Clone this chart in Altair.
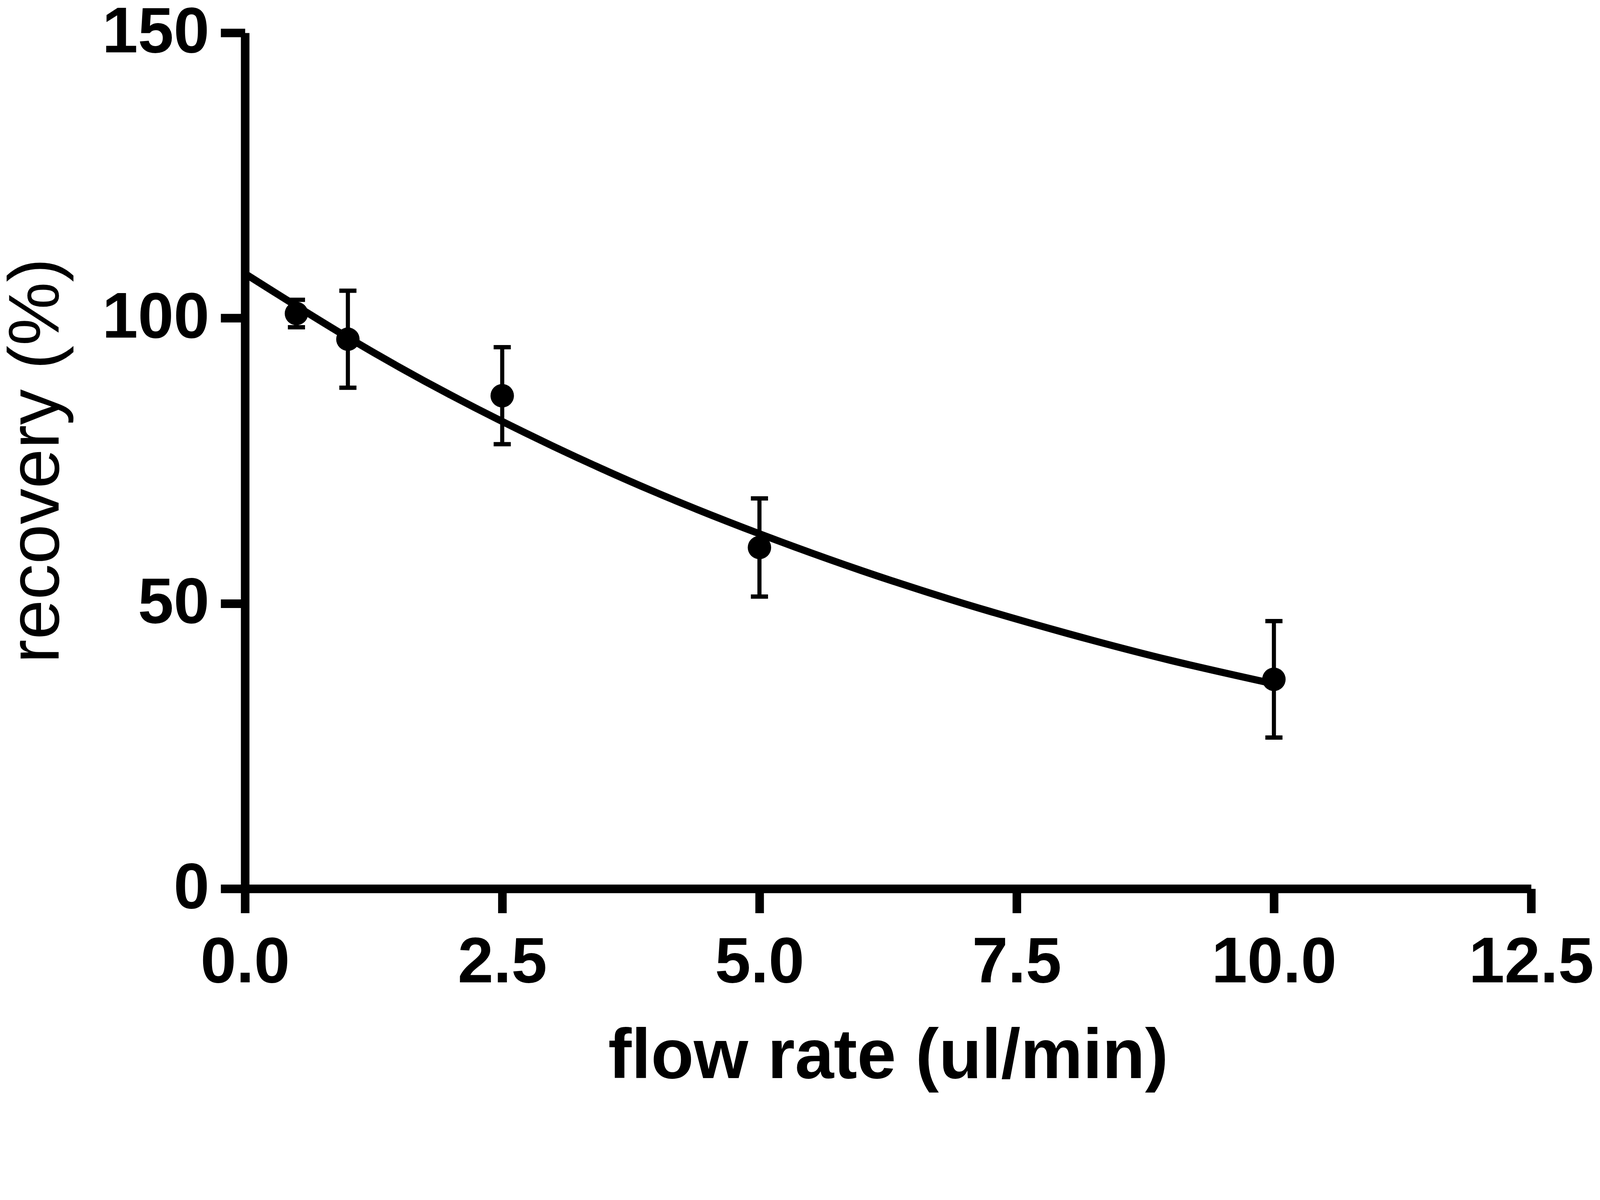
import altair as alt
import pandas as pd

# measured points
flow = [0.5, 1.0, 2.5, 5.0, 10.0]
recovery = [100.8, 96.3, 86.4, 59.8, 36.7]
err = [2.4, 8.5, 8.5, 8.6, 10.2]

# fitted curve
curve_x = [0, 1, 2, 3, 4, 5, 6, 7, 8, 9, 10]
curve_y = [107.8, 96.6, 86.5, 77.5, 69.4, 62.2, 55.7, 49.9, 44.7, 40.0, 35.9]

x_ticks = [0, 2.5, 5, 7.5, 10, 12.5]
y_ticks = [0, 50, 100, 150]

pts = pd.DataFrame({
    "flow": flow,
    "rec": recovery,
    "lo": [r - e for r, e in zip(recovery, err)],
    "hi": [r + e for r, e in zip(recovery, err)],
})
fit = pd.DataFrame({"flow": curve_x, "rec": curve_y})

FONT = "Liberation Sans"

x_axis = alt.Axis(
    values=x_ticks, format=".1f", title="flow rate (ul/min)",
    titleFont=FONT, titleFontSize=196, titleFontWeight="bold",
    titleX=1800, titleY=529, titleBaseline="alphabetic", titleAlign="center",
    labelPadding=51,
)
y_axis = alt.Axis(
    values=y_ticks, format="d", title="recovery (%)",
    titleFont=FONT, titleFontSize=200, titleFontWeight="normal",
    titleAngle=-90, titleX=-522, titleY=1197, titleBaseline="alphabetic",
    titleAlign="center", labelPadding=32,
)

xs = alt.Scale(domain=[0, 12.5], nice=False)
ys = alt.Scale(domain=[0, 150], nice=False)

X = alt.X("flow:Q", scale=xs, axis=x_axis)
Y = alt.Y("rec:Q", scale=ys, axis=y_axis)

bars = alt.Chart(pts).mark_rule(color="black", strokeWidth=11.5).encode(
    x=X, y=alt.Y("lo:Q", scale=ys, axis=y_axis), y2="hi:Q"
)
cap_lo = alt.Chart(pts).mark_tick(color="black", orient="horizontal", size=48, thickness=12, opacity=1).encode(
    x=X, y=alt.Y("lo:Q", scale=ys, axis=y_axis)
)
cap_hi = alt.Chart(pts).mark_tick(color="black", orient="horizontal", size=48, thickness=12, opacity=1).encode(
    x=X, y=alt.Y("hi:Q", scale=ys, axis=y_axis)
)
line = alt.Chart(fit).mark_line(color="black", strokeWidth=20, interpolate="natural").encode(
    x=X, y=Y
)
dots = alt.Chart(pts).mark_point(filled=True, color="black", size=4300, opacity=1, shape="circle").encode(
    x=X, y=Y
)

chart = alt.layer(bars, cap_lo, cap_hi, line, dots).properties(
    width=3600, height=2395,
    autosize=alt.AutoSizeParams(type="none"),
    padding={"left": 677, "top": -60, "right": 184, "bottom": 728},
    background="white",
).configure_view(stroke=None).configure_axis(
    domainColor="black", domainWidth=24, domainCap="butt",
    tickColor="black", tickWidth=24, tickSize=68, tickCap="butt",
    labelFont=FONT, labelFontSize=180, labelFontWeight="bold", labelColor="black",
    labelLimit=0, titleColor="black", grid=False, labelFlush=False, labelOverlap=False,
)

chart.save("out.html", embed_options={"renderer": "svg", "actions": False})
